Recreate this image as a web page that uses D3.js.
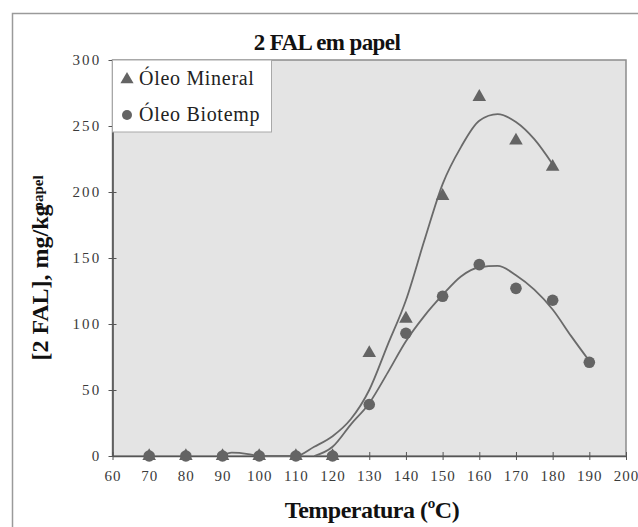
<!DOCTYPE html>
<html>
<head>
<meta charset="utf-8">
<script src="https://cdn.jsdelivr.net/npm/d3@7"></script>
<style>
  html, body { margin: 0; padding: 0; background: #fff; }
  svg { display: block; }
</style>
</head>
<body>
<svg id="chart" width="638" height="527"></svg>
<script>
// Measured 2-FAL content in paper vs. temperature
const mineralTemp = [70, 80, 90, 100, 110, 120, 130, 140, 150, 160, 170, 180];
const mineralVal  = [0, 0, 0, 0, 0, 0, 78, 104, 197, 272, 239, 219];
const biotempTemp = [70, 80, 90, 100, 110, 120, 130, 140, 150, 160, 170, 180, 190];
const biotempVal  = [0, 0, 0, 0, 0, 0, 39, 93, 121, 145, 127, 118, 71];

// Fitted trend curves
const mineralFitTemp = [90, 92.5, 97, 100, 110, 115, 120, 125, 130, 135, 140, 145, 150, 155, 160, 165, 170, 175, 180];
const mineralFitVal  = [0, 2.5, 1.5, 0, 0, 7, 15, 28, 50, 84, 118, 163, 206, 234, 254, 259, 253, 240, 221];
const biotempFitTemp = [115, 120, 125, 130, 135, 140, 145, 150, 155, 160, 165, 170, 175, 180, 185, 190];
const biotempFitVal  = [0, 7, 24, 40, 63, 87, 106, 122, 136, 143, 144, 137, 126, 111, 91, 72];

const xTicks = [60, 70, 80, 90, 100, 110, 120, 130, 140, 150, 160, 170, 180, 190, 200];
const yTicks = [0, 50, 100, 150, 200, 250, 300];
const seriesNames = ["Óleo Mineral", "Óleo Biotemp"];

const SERIF = "'Liberation Serif', 'Times New Roman', 'DejaVu Serif', serif";

const svg = d3.select("#chart");
const plot = { left: 112.5, right: 626, top: 60, bottom: 456 };

const x = d3.scaleLinear().domain([60, 200]).range([plot.left, plot.right]);
const y = d3.scaleLinear().domain([0, 300]).range([plot.bottom, plot.top]);

const markColor = "#646464";
const axisColor = "#555";

// outer frame
svg.append("rect")
  .attr("x", 12.5).attr("y", 13.5)
  .attr("width", 700).attr("height", 600)
  .attr("fill", "none").attr("stroke", "#9a9a9a").attr("stroke-width", 1.5);

// plot background
svg.append("rect")
  .attr("x", plot.left).attr("y", plot.top)
  .attr("width", plot.right - plot.left).attr("height", plot.bottom - plot.top)
  .attr("fill", "#e4e4e4").attr("stroke", "#8c8c8c").attr("stroke-width", 1.5);

// title
svg.append("text")
  .attr("x", 327).attr("y", 50)
  .attr("text-anchor", "middle")
  .style("font-family", SERIF)
  .attr("font-size", 23).attr("font-weight", "bold")
  .attr("letter-spacing", -0.6)
  .attr("fill", "#111")
  .text("2 FAL em papel");

// axes
const xAxis = d3.axisBottom(x).tickValues(xTicks).tickSize(0).tickPadding(0).tickFormat(d3.format("d"));
const gx = svg.append("g").attr("transform", `translate(0,${plot.bottom})`).call(xAxis);
gx.select(".domain").attr("stroke", axisColor).attr("stroke-width", 1.6);
gx.selectAll(".tick line").remove();
gx.selectAll(".tick").append("line")
  .attr("y1", -4).attr("y2", 4).attr("stroke", axisColor).attr("stroke-width", 1);
gx.selectAll(".tick text")
  .attr("y", 25).attr("dy", 0)
  .attr("font-size", 15).attr("fill", "#3a3a3a")
  .attr("letter-spacing", 1)
  .style("font-family", SERIF);

const yAxis = d3.axisLeft(y).tickValues(yTicks).tickSize(0).tickPadding(0);
const gy = svg.append("g").attr("transform", `translate(${plot.left},0)`).call(yAxis);
gy.select(".domain").attr("stroke", axisColor).attr("stroke-width", 1.6);
gy.selectAll(".tick line").remove();
gy.selectAll(".tick").append("line")
  .attr("x1", -4).attr("x2", 4).attr("stroke", axisColor).attr("stroke-width", 1);
gy.selectAll(".tick text")
  .attr("x", -11).attr("dy", "0.32em")
  .attr("font-size", 15).attr("fill", "#3a3a3a")
  .attr("letter-spacing", 2.2)
  .style("font-family", SERIF);

// trend curves
const line = d3.line().x(d => x(d[0])).y(d => y(d[1])).curve(d3.curveMonotoneX);
svg.append("path")
  .datum(mineralFitTemp.map((t, i) => [t, mineralFitVal[i]]))
  .attr("d", line).attr("fill", "none").attr("stroke", "#6a6a6a").attr("stroke-width", 1.8);
svg.append("path")
  .datum(biotempFitTemp.map((t, i) => [t, biotempFitVal[i]]))
  .attr("d", line).attr("fill", "none").attr("stroke", "#6a6a6a").attr("stroke-width", 1.8);

// markers
const tri = d3.symbol().type(d3.symbolTriangle).size(80);
svg.append("g").selectAll("path")
  .data(mineralTemp.map((t, i) => [t, mineralVal[i]]))
  .join("path")
  .attr("d", tri)
  .attr("transform", d => `translate(${x(d[0])},${y(d[1])})`)
  .attr("fill", markColor);

svg.append("g").selectAll("circle")
  .data(biotempTemp.map((t, i) => [t, biotempVal[i]]))
  .join("circle")
  .attr("cx", d => x(d[0])).attr("cy", d => y(d[1]))
  .attr("r", 5.8)
  .attr("fill", markColor);

// legend
const lg = svg.append("g");
lg.append("rect")
  .attr("x", plot.left).attr("y", plot.top)
  .attr("width", 159).attr("height", 72)
  .attr("fill", "#fff").attr("stroke", "#a8a8a8").attr("stroke-width", 1);
lg.append("path").attr("d", d3.symbol().type(d3.symbolTriangle).size(75))
  .attr("transform", "translate(127,79.5)").attr("fill", markColor);
lg.append("circle").attr("cx", 127).attr("cy", 115).attr("r", 5).attr("fill", markColor);
lg.append("text").attr("x", 139).attr("y", 85)
  .style("font-family", SERIF)
  .attr("font-size", 20).attr("letter-spacing", 0.7)
  .attr("fill", "#222").text(seriesNames[0]);
lg.append("text").attr("x", 139).attr("y", 121)
  .style("font-family", SERIF)
  .attr("font-size", 20).attr("letter-spacing", 0.7)
  .attr("fill", "#222").text(seriesNames[1]);

// axis titles
svg.append("text")
  .attr("x", 372).attr("y", 518)
  .attr("text-anchor", "middle")
  .style("font-family", SERIF)
  .attr("font-size", 24).attr("font-weight", "bold")
  .attr("letter-spacing", -0.5)
  .attr("fill", "#111")
  .text("Temperatura (ºC)");

const yt = svg.append("text")
  .attr("transform", "translate(48,268) rotate(-90)")
  .attr("text-anchor", "middle")
  .style("font-family", SERIF)
  .attr("font-size", 24).attr("font-weight", "bold")
  .attr("fill", "#111");
yt.append("tspan").text("[2 FAL], mg/kg");
yt.append("tspan").attr("dx", -6).attr("dy", -5)
  .attr("font-size", 15).attr("font-weight", "bold").text("papel");
</script>
</body>
</html>
